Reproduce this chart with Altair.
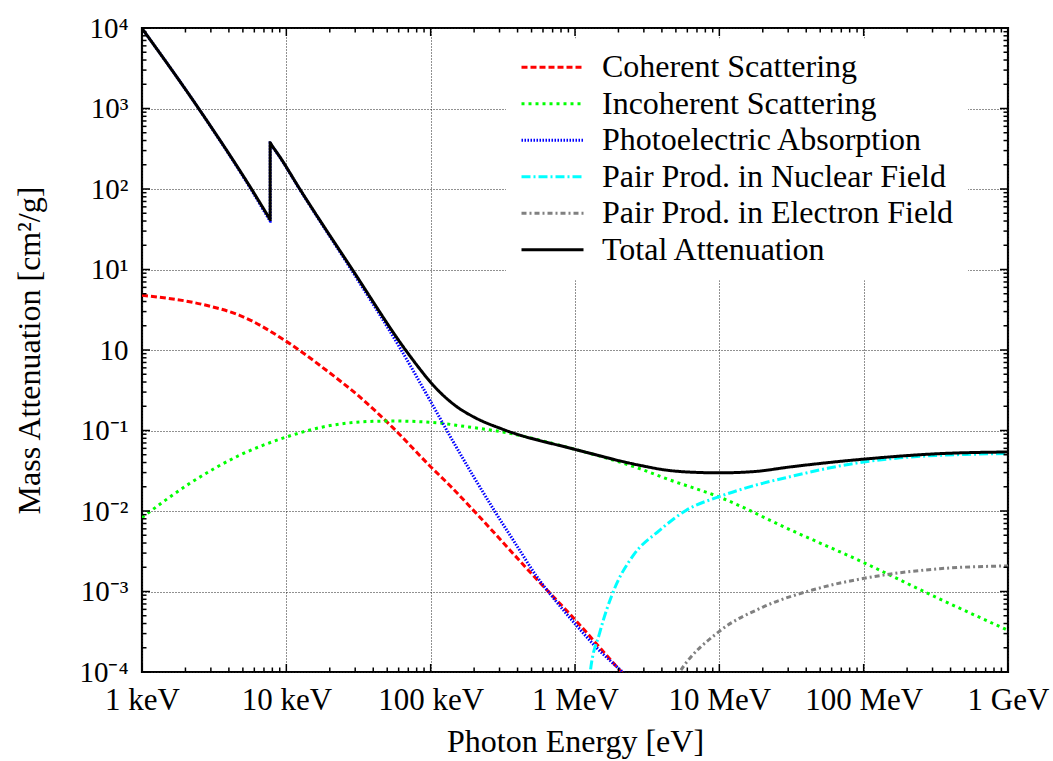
import altair as alt
import pandas as pd

# ---------------- data ----------------
series_names = ["Coherent Scattering", "Incoherent Scattering", "Photoelectric Absorption",
                "Pair Prod. in Nuclear Field", "Pair Prod. in Electron Field", "Total Attenuation"]
colors = ["#ff0000", "#00ff00", "#0000ff", "#00ffff", "#808080", "#000000"]
dashes = [[6, 3], [3, 4], [1.5, 1.5], [9, 3, 2, 3], [5, 3, 2, 3], [1, 0]]
widths = [3, 3, 2, 3.5, 3, 3]

# photon energy [eV], mass attenuation [cm^2/g]
coh_E = [1000, 2786, 4742, 1e4, 18920, 32140, 54700, 1e5, 135200, 212300, 537000, 1e6, 2.094e6, 2.818e6]
coh_mu = [4.79, 3.59, 2.70, 1.28, 0.560, 0.263, 0.1084, 0.0355, 0.0209, 0.0089, 0.00145, 4.47e-4, 1e-4, 5.6e-5]

inc_E = [1000, 2133, 4742, 1e4, 17910, 39720, 54700, 115300, 150300, 316200, 1e6, 2.805e6, 4.295e6,
         1e7, 3.162e7, 1e8, 3.162e8, 1e9]
inc_mu = [0.00828, 0.0219, 0.0492, 0.083, 0.1107, 0.130, 0.1312, 0.1239, 0.1161, 0.0957, 0.0583, 0.0336,
          0.0252, 0.0149, 0.00575, 0.00229, 8.5e-4, 3.3e-4]

pe_E = [1000, 2466, 5715, 7550, 7727, 7727, 7900, 8974, 12330, 28640, 62520, 1e5, 141300, 199500,
        281800, 398100, 537000, 707900, 1e6, 1.413e6, 2.138e6, 2.818e6]
pe_mu = [9890, 1000, 98, 42.6, 39.8, 372, 350, 251, 100, 9.5, 1.0, 0.229, 0.0759, 0.0263, 0.00955,
         0.00363, 0.00158, 8.32e-4, 3.98e-4, 2.0e-4, 1e-4, 6.3e-5]

pn_E = [1.2e6, 1.276e6, 1.479e6, 1.862e6, 2.512e6, 3.855e6, 5.902e6, 1e7, 1.778e7, 3.162e7,
        5.623e7, 1e8, 1.778e8, 3.162e8, 5.623e8, 1e9]
pn_mu = [2.5e-5, 1e-4, 3.02e-4, 1.047e-3, 2.75e-3, 5.75e-3, 0.01023, 0.0151, 0.0209, 0.0269,
         0.0339, 0.0407, 0.0457, 0.049, 0.0507, 0.0519]

pe2_E = [3.98e6, 5.309e6, 1e7, 2.004e7, 4.457e7, 9.886e7, 3.365e8, 1e9]
pe2_mu = [4e-5, 1e-4, 3.2e-4, 6.4e-4, 1.05e-3, 1.45e-3, 1.92e-3, 2.08e-3]

tot_E = [1000, 2466, 5715, 7550, 7727, 7727, 7900, 8974, 12330, 28640, 67000, 83750, 100900, 115300,
         150300, 201400, 316200, 1e6, 2.805e6, 4.295e6, 6.31e6, 1e7, 1.778e7, 3.069e7, 9.886e7,
         3.365e8, 1e9]
tot_mu = [9900, 1003, 101, 44.7, 41.8, 375, 353, 254, 101.5, 10, 1.0, 0.587, 0.389, 0.302, 0.200,
          0.1455, 0.1035, 0.0583, 0.037, 0.0322, 0.0304, 0.0298, 0.0310, 0.0352, 0.0440, 0.0516, 0.0541]

x_tick_labels = ["1 keV", "10 keV", "100 keV", "1 MeV", "10 MeV", "100 MeV", "1 GeV"]
y_tick_labels = ["10\u207b\u2074", "10\u207b\u00b3", "10\u207b\u00b2", "10\u207b\u00b9", "10",
                 "10\u00b9", "10\u00b2", "10\u00b3", "10\u2074"]

# ---------------- build table ----------------
all_E = [coh_E, inc_E, pe_E, pn_E, pe2_E, tot_E]
all_mu = [coh_mu, inc_mu, pe_mu, pn_mu, pe2_mu, tot_mu]
rows = []
for name, Es, mus in zip(series_names, all_E, all_mu):
    for i, (e, m) in enumerate(zip(Es, mus)):
        rows.append({"series": name, "E": e, "mu": m, "i": i})
df = pd.DataFrame(rows)

W, H = 866, 644
FONT = "Liberation Serif"

xs = alt.Scale(type="log", domain=[1e3, 1e9], nice=False)
ys = alt.Scale(type="log", domain=[1e-4, 1e4], nice=False)

x_major = [10.0 ** k for k in range(3, 10)]
y_major = [10.0 ** k for k in range(-4, 5)]
x_minor = [m * 10.0 ** k for k in range(3, 9) for m in range(2, 10)]
y_minor = [m * 10.0 ** k for k in range(-4, 4) for m in range(2, 10)]

xlabel_expr = "[" + ",".join("'%s'" % s for s in x_tick_labels) + "][round(log(datum.value)/LN10)-3]"
ylabel_expr = "[" + ",".join("'%s'" % s for s in y_tick_labels) + "][round(log(datum.value)/LN10)+4]"

x_axis = alt.Axis(values=x_major, labelExpr=xlabel_expr, title="Photon Energy [eV]",
                  grid=True, ticks=False, domain=False, labelPadding=13,
                  titleX=W / 2, titleY=69, titleBaseline="middle", titleAlign="center")
y_axis = alt.Axis(values=y_major, labelExpr=ylabel_expr, title="Mass Attenuation [cm\u00b2/g]",
                  grid=True, ticks=False, domain=False, labelPadding=14,
                  titleX=-113, titleY=H / 2, titleAngle=270, titleBaseline="middle", titleAlign="center")

lines = alt.Chart(df).mark_line(clip=True, strokeCap="butt", strokeJoin="miter",
                                interpolate="monotone").encode(
    x=alt.X("E:Q", scale=xs, axis=x_axis),
    y=alt.Y("mu:Q", scale=ys, axis=y_axis),
    color=alt.Color("series:N", scale=alt.Scale(domain=series_names, range=colors),
                    legend=alt.Legend(title=None)),
    strokeDash=alt.StrokeDash("series:N", scale=alt.Scale(domain=series_names, range=dashes),
                              legend=alt.Legend(title=None)),
    strokeWidth=alt.StrokeWidth("series:N", scale=alt.Scale(domain=series_names, range=widths),
                                legend=None),
    order=alt.Order("i:Q"),
)

def xticks(vals, length, top):
    d = pd.DataFrame({"E": vals})
    if top:
        yv, y2v = 0, length
    else:
        yv, y2v = H, H - length
    return alt.Chart(d).mark_rule(color="black", strokeWidth=1.5).encode(
        x=alt.X("E:Q", scale=xs, axis=x_axis), y=alt.value(yv), y2=alt.value(y2v))

def yticks(vals, length, right):
    d = pd.DataFrame({"mu": vals})
    if right:
        xv, x2v = W, W - length
    else:
        xv, x2v = 0, length
    return alt.Chart(d).mark_rule(color="black", strokeWidth=1.5).encode(
        y=alt.Y("mu:Q", scale=ys, axis=y_axis), x=alt.value(xv), x2=alt.value(x2v))

tick_layers = [
    xticks(x_major, 8, False), xticks(x_minor, 4.5, False),
    xticks(x_major, 8, True), xticks(x_minor, 4.5, True),
    yticks(y_major, 8, False), yticks(y_minor, 4.5, False),
    yticks(y_major, 8, True), yticks(y_minor, 4.5, True),
]

chart = alt.layer(lines, *tick_layers).properties(
    width=W, height=H,
    autosize=alt.AutoSizeParams(type="none"),
    padding={"left": 142, "top": 28, "right": 45, "bottom": 89},
    background="white",
).configure_view(
    stroke="black", strokeWidth=2.2
).configure_axis(
    labelFont=FONT, labelColor="black",
    titleFont=FONT, titleFontSize=32, titleColor="black", titleFontWeight="normal",
    gridColor="#222222", gridDash=[1, 2], gridWidth=1, gridOpacity=1,
    labelFlush=False, labelOverlap=False,
).configure_axisX(
    labelFontSize=31
).configure_axisY(
    labelFontSize=29
).configure_legend(
    orient="none", legendX=364, legendY=10.3, padding=14, fillColor="white",
    symbolType="stroke", symbolSize=3844, symbolStrokeWidth=3, clipHeight=30,
    labelFont=FONT, labelFontSize=32, labelColor="black", labelOffset=17,
    labelLimit=600, rowPadding=4.5,
)

chart.save("out.html", embed_options={"renderer": "svg", "actions": False})
